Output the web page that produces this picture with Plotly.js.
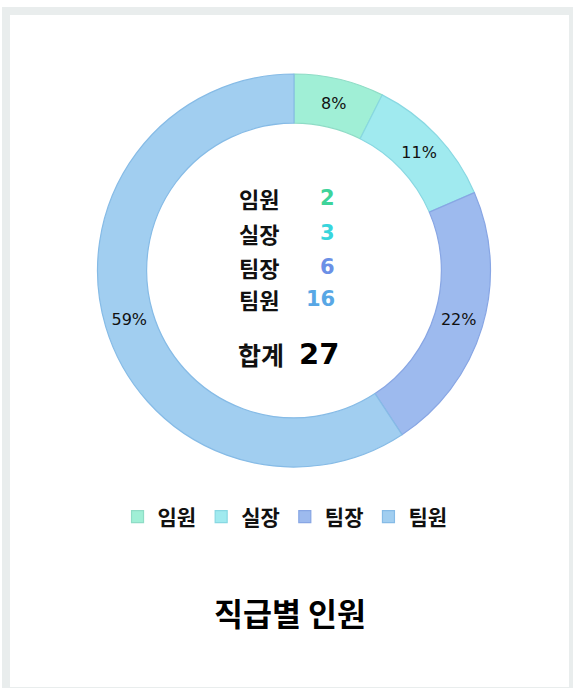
<!DOCTYPE html>
<html>
<head>
<meta charset="utf-8">
<script src="https://cdn.plot.ly/plotly-3.0.1.min.js"></script>
<style>
  html, body { margin: 0; padding: 0; background: #ffffff; width: 573px; height: 688px; overflow: hidden; }
  #frame { position: absolute; left: 2px; top: 7px; width: 573px; height: 682px; background: #e9eded; }
  #chart { position: absolute; left: 10px; top: 15px; width: 559px; height: 672px; background: #ffffff; }
</style>
</head>
<body>
<div id="frame"></div>
<div id="chart"></div>
<script>
const categories = ['임원', '실장', '팀장', '팀원'];
const counts = [2, 3, 6, 16];
const pctLabels = ['8%', '11%', '22%', '59%'];
const totalLabel = '합계';
const chartTitle = '직급별 인원';

const fillColors = ['#a0efd6', '#a0eaef', '#9dbaee', '#a1cef0'];
const lineColors = ['#8fdcc6', '#88d8e2', '#88a6e4', '#86bbe6'];
const numberColors = ['#3ed39a', '#38d5dc', '#6b90e6', '#58a7e5'];

const total = counts.reduce((a, b) => a + b, 0);
const KR = '"Noto Sans CJK KR", "Noto Sans", sans-serif';
const NUM = '"DejaVu Sans", sans-serif';

const rowY = [0.7277, 0.6756, 0.625, 0.5774];
const annotations = [];
categories.forEach((c, i) => {
  annotations.push({
    xref: 'paper', yref: 'paper', x: 0.4454, y: rowY[i],
    xanchor: 'center', yanchor: 'middle', showarrow: false,
    text: c, font: { family: KR, size: 22, color: '#111111', weight: 700 }
  });
  annotations.push({
    xref: 'paper', yref: 'paper', x: 0.585, y: rowY[i],
    xanchor: 'right', yanchor: 'middle', showarrow: false,
    text: String(counts[i]), font: { family: NUM, size: 21, color: numberColors[i], weight: 700 }
  });
});
annotations.push({
  xref: 'paper', yref: 'paper', x: 0.449, y: 0.4955,
  xanchor: 'center', yanchor: 'middle', showarrow: false,
  text: totalLabel, font: { family: KR, size: 25, color: '#111111', weight: 700 }
});
annotations.push({
  xref: 'paper', yref: 'paper', x: 0.513, y: 0.4955,
  xanchor: 'left', yanchor: 'middle', showarrow: false,
  text: String(total), font: { family: NUM, size: 29, color: '#000000', weight: 800 }
});

const trace = {
  type: 'pie',
  labels: categories,
  values: counts,
  text: pctLabels,
  textinfo: 'text',
  hoverinfo: 'label+value',
  hole: 0.75,
  sort: false,
  direction: 'clockwise',
  rotation: 0,
  textposition: 'inside',
  insidetextorientation: 'horizontal',
  textfont: { family: NUM, size: 16, color: '#111111' },
  marker: { colors: fillColors, line: { color: lineColors, width: 1.2 } },
  domain: { x: [0.1565, 0.8596], y: [0.3274, 0.9122] },
  automargin: false
};

const layout = {
  width: 559, height: 672,
  margin: { l: 0, r: 0, t: 0, b: 0 },
  paper_bgcolor: '#ffffff',
  plot_bgcolor: '#ffffff',
  showlegend: true,
  legend: {
    orientation: 'h', x: 0.492, xanchor: 'center', y: 0.253, yanchor: 'middle',
    font: { family: KR, size: 21, color: '#111111', weight: 700 },
    itemwidth: 30, tracegroupgap: 0
  },
  title: {
    text: chartTitle, x: 0.501, xanchor: 'center', y: 0.107, yanchor: 'middle',
    font: { family: KR, size: 31.5, color: '#000000', weight: 700 }
  },
  annotations: annotations
};

Plotly.newPlot('chart', [trace], layout, { displayModeBar: false, staticPlot: true });
</script>
</body>
</html>
